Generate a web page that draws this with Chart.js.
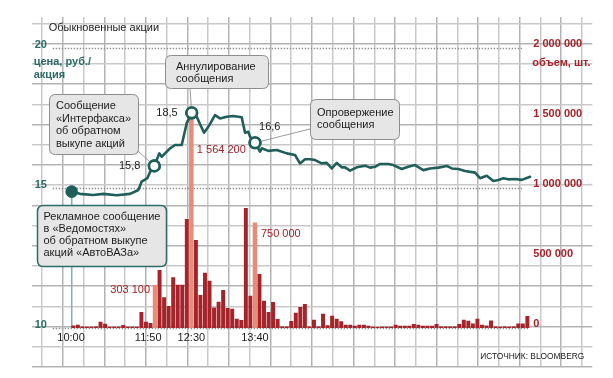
<!DOCTYPE html>
<html>
<head>
<meta charset="utf-8">
<script src="https://cdn.jsdelivr.net/npm/chart.js@4.4.1/dist/chart.umd.min.js"></script>
<style>
  html, body { margin: 0; padding: 0; background: #fff; }
  #wrap { width: 613px; height: 378px; }
</style>
</head>
<body>
<div id="wrap"><canvas id="chart" width="613" height="378"></canvas></div>
<script>
// --- данные ---
var priceTicks = [10, 15, 20];
var volumeTicks = [0, 500000, 1000000, 1500000, 2000000];
var timeLabels = ["10:00", "11:50", "12:30", "13:40"];
var timePos = [-0.5, 16.5, 26, 40];

// объем торгов по интервалам, шт.
var volumes = [
  14000, 19000, 6000, 5000, 5000, 7000, 40000, 26000, 5000, 5000,
  5000, 17000, 4000, 4000, 5000, 110000, 40000, 31000, 303100, 410000,
  215000, 153000, 358000, 305000, 305000, 775000, 1564200, 625000, 232000, 391000,
  334000, 143000, 183000, 267000, 138000, 134000, 62000, 53000, 854000, 227000,
  750000, 382000, 191000, 110000, 182000, 60000, 7000, 7000, 45000, 104000,
  146000, 168000, 7000, 55000, 7000, 97000, 16000, 84000, 61000, 44000,
  19000, 19000, 12000, 19000, 19000, 12000, 5000, 3000, 4000, 4000,
  4000, 19000, 12000, 12000, 12000, 24000, 19000, 12000, 12000, 12000,
  24000, 7000, 7000, 7000, 7000, 24000, 55000, 47000, 27000, 62000,
  19000, 14000, 50000, 7000, 4000, 7000, 4000, 7000, 27000, 27000,
  82000
];
var highlightBars = [18, 26, 40];

// цена, руб./акция (позиция в интервалах, значение)
var priceX = [
  -0.35, 1.48, 4.41, 6.61, 9.56, 12.49, 14.32, 15.07, 16.3, 17.1,
  17.84, 18.94, 19.47, 21.3, 22.4, 23.88, 24.98, 26.08, 27.18, 28.79,
  29.74, 31.21, 32.31, 33.79, 35.24, 37.09, 37.82, 38.55, 38.92, 40.02,
  41.12, 41.5, 42.95, 44.8, 47.0, 48.83, 49.93, 51.03, 52.13, 53.24,
  54.71, 55.81, 56.92, 58.02, 59.12, 59.85, 60.95, 62.42, 64.25, 65.35,
  66.45, 67.56, 69.38, 70.48, 72.33, 73.79, 75.26, 77.09, 78.57, 80.4,
  82.25, 83.35, 84.8, 86.28, 88.48, 89.58, 91.06, 92.51, 93.61, 94.71,
  95.81, 97.29, 98.77, 100.6
];
var priceY = [
  14.87, 14.79, 14.75, 14.79, 14.74, 14.79, 14.93, 15.23, 15.35, 15.64,
  15.79, 16.24, 16.12, 16.42, 16.54, 16.54, 17.32, 17.69, 17.55, 16.98,
  17.19, 17.61, 17.49, 17.55, 17.58, 17.53, 16.98, 17.01, 16.84, 16.62,
  16.3, 16.42, 16.33, 16.36, 16.24, 16.18, 15.88, 16.03, 16.03, 16.0,
  15.88, 15.9, 15.7, 15.9, 15.74, 15.74, 15.62, 15.74, 15.8, 15.73,
  15.76, 15.86, 15.86, 15.82, 15.68, 15.76, 15.82, 15.64, 15.7, 15.73,
  15.79, 15.7, 15.68, 15.61, 15.55, 15.35, 15.44, 15.25, 15.29, 15.35,
  15.31, 15.32, 15.29, 15.4
];
var markerPoints = [0, 10, 17, 29];
var markerLabels = ["", "15,8", "18,5", "16,6"];

// --- оформление ---
var FONT = "'Liberation Sans', Arial, sans-serif";
var TEAL = "#205e59";
var TEAL_TXT = "#2a6b67";
var RED = "#a52329";
var SALMON = "#e68c78";
var INK = "#1c1c1c";

var gridCols = 27, gridRows = 17;

function fmt(n) {
  return String(n).replace(/\B(?=(\d{3})+(?!\d))/g, " ");
}

var callouts = [
  { x: 49, y: 94, w: 89, h: 60, lines: ["Сообщение", "«Интерфакса»", "об обратном", "выкупе акций"], tx: 56, ty: 106, lh: 12.5, border: "#8d8d8d", marker: 1, from: [138, 151] },
  { x: 165, y: 55, w: 103, h: 33, lines: ["Аннулирование", "сообщения"], tx: 176, ty: 66.5, lh: 12, border: "#8d8d8d", marker: 2, from: [190, 88] },
  { x: 310, y: 99, w: 89, h: 40, lines: ["Опровержение", "сообщения"], tx: 317, ty: 113, lh: 12, border: "#8d8d8d", marker: 3, from: [310, 129] },
  { x: 37, y: 205, w: 129, h: 61, lines: ["Рекламное сообщение", "в «Ведомостях»", "об обратном выкупе", "акций «АвтоВАЗа»"], tx: 43.5, ty: 216.5, lh: 12.2, border: "#2d6b66", lw: 1.5 }
];
var markerTextOffset = [null, [-14, 0, "right"], [-14, 0, "right"], [4, -16, "left"]];

function roundRect(ctx, x, y, w, h, r) {
  ctx.beginPath();
  ctx.moveTo(x + r, y);
  ctx.lineTo(x + w - r, y);
  ctx.quadraticCurveTo(x + w, y, x + w, y + r);
  ctx.lineTo(x + w, y + h - r);
  ctx.quadraticCurveTo(x + w, y + h, x + w - r, y + h);
  ctx.lineTo(x + r, y + h);
  ctx.quadraticCurveTo(x, y + h, x, y + h - r);
  ctx.lineTo(x, y + r);
  ctx.quadraticCurveTo(x, y, x + r, y);
  ctx.closePath();
}

function markerPixel(chart, k) {
  var i = markerPoints[k];
  return {
    x: chart.scales.x.getPixelForValue(priceX[i]),
    y: chart.scales.yp.getPixelForValue(priceY[i])
  };
}

var chartText = {
  id: "chartText",
  beforeDatasetsDraw: function (chart) {
    var ctx = chart.ctx, a = chart.chartArea;
    var yp = chart.scales.yp, x = chart.scales.x;
    ctx.save();
    ctx.strokeStyle = "#8f8f8f";
    ctx.lineWidth = 1.3;
    ctx.setLineDash([1.4, 1.6]);
    priceTicks.forEach(function (v) {
      var y = Math.round(yp.getPixelForValue(v)) + 0.5;
      ctx.beginPath();
      ctx.moveTo(a.left + 21, y);
      ctx.lineTo(x.getPixelForValue(v === 10 ? 100.5 : 98.8), y);
      ctx.stroke();
    });
    ctx.setLineDash([]);
    var p0 = markerPixel(chart, 0);
    ctx.strokeStyle = "#86b2af";
    ctx.lineWidth = 1.6;
    ctx.beginPath();
    ctx.moveTo(p0.x, p0.y);
    ctx.lineTo(p0.x, yp.getPixelForValue(10));
    ctx.stroke();
    ctx.restore();
  },
  afterDraw: function (chart) {
    var ctx = chart.ctx, a = chart.chartArea;
    var yp = chart.scales.yp, yv = chart.scales.yv, x = chart.scales.x;
    ctx.save();
    ctx.textBaseline = "middle";

    // заголовок и подписи осей
    ctx.fillStyle = INK;
    ctx.font = "11px " + FONT;
    ctx.textAlign = "left";
    ctx.fillText("Обыкновенные акции", a.left + 17, 28);

    ctx.fillStyle = TEAL_TXT;
    ctx.font = "bold 11px " + FONT;
    priceTicks.forEach(function (v) {
      ctx.fillText(String(v), a.left + 3, yp.getPixelForValue(v) - 3);
    });
    ctx.fillText("цена, руб./", a.left + 2, 62);
    ctx.fillText("акция", a.left + 2, 75);

    ctx.fillStyle = RED;
    volumeTicks.forEach(function (v) {
      ctx.fillText(fmt(v), a.right - 59, yv.getPixelForValue(v) - 4);
    });
    ctx.fillText("объем, шт.", a.right - 60, 63);

    ctx.fillStyle = INK;
    ctx.font = "11px " + FONT;
    ctx.textAlign = "center";
    timeLabels.forEach(function (t, i) {
      ctx.fillText(t, x.getPixelForValue(timePos[i]), yp.getPixelForValue(10) + 10);
    });

    ctx.textAlign = "right";
    ctx.font = "9.5px " + FONT;
    ctx.fillText("ИСТОЧНИК: BLOOMBERG", a.right - 8, 356, 104);

    // подписи выделенных объемов
    ctx.font = "11px " + FONT;
    ctx.fillStyle = RED;
    var b0 = highlightBars[0], b1 = highlightBars[1], b2 = highlightBars[2];
    ctx.textAlign = "right";
    ctx.fillText(fmt(volumes[b0]), x.getPixelForValue(b0) - 5, 290);
    ctx.textAlign = "left";
    ctx.fillText(fmt(volumes[b1]), x.getPixelForValue(b1) + 5.5, 150);
    ctx.fillText(fmt(volumes[b2]), x.getPixelForValue(b2) + 6, yv.getPixelForValue(volumes[b2]) + 11);

    // выноски
    callouts.forEach(function (c) {
      if (c.marker != null) {
        var m = markerPixel(chart, c.marker);
        ctx.strokeStyle = "#9a9a9a";
        ctx.lineWidth = 1;
        ctx.beginPath();
        ctx.moveTo(c.from[0], c.from[1]);
        ctx.lineTo(m.x, m.y);
        ctx.stroke();
      }
    });
    // повторно рисуем кружки поверх соединительных линий
    markerPoints.forEach(function (i, k) {
      if (k === 0) return;
      var m = markerPixel(chart, k);
      ctx.beginPath();
      ctx.arc(m.x, m.y, 5.3, 0, Math.PI * 2);
      ctx.fillStyle = "#fff";
      ctx.fill();
      ctx.lineWidth = 2.6;
      ctx.strokeStyle = TEAL;
      ctx.stroke();
    });
    callouts.forEach(function (c) {
      roundRect(ctx, c.x + 0.5, c.y + 0.5, c.w, c.h, 6);
      ctx.fillStyle = "#e6e6e6";
      ctx.fill();
      ctx.lineWidth = c.lw || 1;
      ctx.strokeStyle = c.border;
      ctx.stroke();
      ctx.fillStyle = INK;
      ctx.font = "11px " + FONT;
      ctx.textAlign = "left";
      c.lines.forEach(function (t, j) {
        ctx.fillText(t, c.tx, c.ty + j * c.lh);
      });
    });

    ctx.font = "11px " + FONT;
    ctx.fillStyle = INK;
    markerLabels.forEach(function (t, k) {
      if (!t) return;
      var m = markerPixel(chart, k), o = markerTextOffset[k];
      ctx.textAlign = o[2];
      ctx.fillText(t, m.x + o[0], m.y + o[1]);
    });
    ctx.restore();
  }
};

var darkBars = volumes.map(function (v, i) {
  return { x: i, y: highlightBars.indexOf(i) >= 0 ? null : v };
});
var lightBars = highlightBars.map(function (i) {
  return { x: i, y: volumes[i] };
});
var pricePoints = priceX.map(function (px, i) {
  return { x: px, y: priceY[i] };
});
var markers = markerPoints.map(function (i) {
  return { x: priceX[i], y: priceY[i] };
});

function gridAxis(n, pos) {
  return {
    type: "linear",
    position: pos,
    min: 0,
    max: n,
    offset: false,
    afterBuildTicks: function (s) {
      var t = [];
      for (var k = 0; k <= n; k++) t.push({ value: k });
      s.ticks = t;
    },
    ticks: { display: false },
    border: { display: false },
    grid: {
      drawTicks: false,
      lineWidth: 1.5,
      color: function (c) {
        return c.index % 2 ? "#c9c9c9" : "#b3b3b3";
      }
    }
  };
}

var gx = gridAxis(gridCols, "top");
var gy = gridAxis(gridRows, "left");
gy.max = 17.31;

new Chart(document.getElementById("chart"), {
  type: "bar",
  data: {
    datasets: [
      { type: "line", data: markers, xAxisID: "x", yAxisID: "yp", showLine: false, order: 1,
        pointRadius: function (c) { return c.dataIndex === 0 ? 6.3 : 5.3; },
        pointBackgroundColor: function (c) { return c.dataIndex === 0 ? TEAL : "#fff"; },
        pointBorderColor: TEAL, pointBorderWidth: function (c) { return c.dataIndex === 0 ? 0 : 2.6; } },
      { type: "line", data: pricePoints, xAxisID: "x", yAxisID: "yp", order: 2,
        borderColor: TEAL, borderWidth: 2.6, pointRadius: 0, tension: 0,
        borderJoinStyle: "round", borderCapStyle: "round" },
      { data: lightBars, xAxisID: "x", yAxisID: "yv", order: 3, grouped: false,
        backgroundColor: SALMON, barThickness: 3.8 },
      { data: darkBars, xAxisID: "x", yAxisID: "yv", order: 4, grouped: false,
        backgroundColor: RED, barThickness: 3.3 }
    ]
  },
  options: {
    responsive: false,
    devicePixelRatio: 1,
    animation: false,
    layout: { padding: { left: 31.7, right: 20.7, top: 17.3, bottom: 11 } },
    plugins: { legend: { display: false }, tooltip: { enabled: false } },
    scales: {
      gx: gx,
      gy: gy,
      x: { type: "linear", display: false, offset: false, min: -9.16, max: 114.3 },
      yp: { type: "linear", display: false, min: 8.593, max: 21.11 },
      yv: { type: "linear", display: false, min: -281300, max: 2221900 }
    }
  },
  plugins: [chartText]
});
</script>
</body>
</html>
